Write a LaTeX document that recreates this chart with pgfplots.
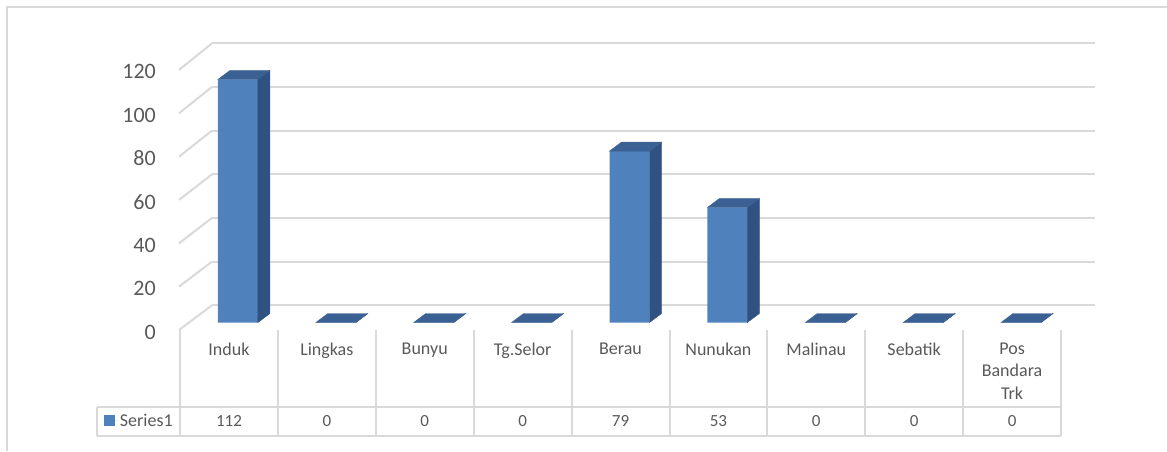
\documentclass[border=0pt]{standalone}
\usepackage{pgfplots}
\pgfplotsset{compat=1.18}
\usepackage{pgfplotstable}
\usepackage{fontspec}
\setmainfont{Carlito}
\definecolor{frontc}{HTML}{4F81BD}
\definecolor{sidec}{HTML}{2F5282}
\definecolor{topc}{HTML}{3B6194}
\definecolor{gridc}{HTML}{D9D9D9}
\definecolor{textc}{HTML}{595959}
\pgfdeclareplotmark{nothing}{}
\pgfplotstableread{
x val base
0 112 0
1 0 0
2 0 0
3 0 0
4 79 0
5 53 0
6 0 0
7 0 0
8 0 0
}\data
\begin{document}
\begin{tikzpicture}
\path[use as bounding box] (0pt,0pt) rectangle (1167pt,451pt);
\draw[gridc, line width=1.4pt] (7pt,0pt) -- (7pt,444pt) -- (1167pt,444pt);
% back wall
\begin{axis}[at={(212pt,145.7pt)}, anchor=south west, scale only axis,
  width=883pt, height=262pt, xmin=0, xmax=1, ymin=0, ymax=120,
  ytick={0,20,...,120}, xtick=\empty, yticklabels={},
  ymajorgrids, grid style={gridc, line width=2pt},
  axis line style={draw=none}, major tick length=0pt]
\end{axis}
% side wall
\foreach \v in {0,20,...,120}
  \draw[gridc, line width=2pt] (179pt,{121pt+2.167pt*\v}) -- (212pt,{145.7pt+2.1833pt*\v});
% table lines
\foreach \i in {0,...,9}
  \draw[gridc, line width=2pt] ({180pt+97.9pt*\i},121pt) -- ({180pt+97.9pt*\i},15pt);
\draw[gridc, line width=2pt] (97pt,44pt) -- (1061pt,44pt);
\draw[gridc, line width=2pt] (97pt,15pt) -- (1061pt,15pt);
\draw[gridc, line width=2pt] (97pt,44pt) -- (97pt,15pt);
% main axis
\begin{axis}[at={(180pt,128.5pt)}, anchor=south west, scale only axis,
  width=881pt, height=260.4pt, xmin=-0.5, xmax=8.5, ymin=0, ymax=120,
  clip=false, axis line style={draw=none}, major tick length=0pt,
  /pgf/number format/assume math mode=true,
  ytick={0,20,...,120},
  yticklabel style={font=\fontsize{22}{26}\selectfont, text=textc, anchor=east, inner sep=0pt, xshift=-24pt, yshift=-9.5pt},
  xtick={0,...,8},
  xticklabels={Induk, Lingkas, Bunyu, Tg.Selor, Berau, Nunukan, Malinau, Sebatik, {Pos\\Bandara\\Trk}},
  xticklabel style={font=\fontsize{18}{22.5}\selectfont, text=textc, anchor=north, align=center, inner sep=0pt, yshift=-20pt},
  legend style={at={(axis description cs:-0.0863,-0.378)}, anchor=west, draw=none, fill=none, inner sep=0pt, outer sep=0pt, font=\fontsize{18}{22}\selectfont, text=textc},
  legend image code/.code={\fill[frontc] (0pt,-5.5pt) rectangle (11pt,5.5pt); \path (0pt,0pt) -- (14pt,0pt);}
  ]
\addplot[ybar, bar width=40pt, bar shift=9pt, fill=frontc, draw=none] table[x=x,y=val]{\data};
\addlegendentry{Series1}
\addplot[scatter, only marks, mark=nothing, forget plot,
  visualization depends on={\thisrow{val} \as \hval},
  scatter/@pre marker code/.code={%
    \pgfmathsetlengthmacro\hh{\hval*2.17pt}%
    \fill[sidec] (29pt,0pt) -- (41pt,9pt) -- (41pt,{9pt-\hh}) -- (29pt,{-\hh}) -- cycle;
    \fill[topc] (-11pt,0pt) -- (29pt,0pt) -- (41pt,9pt) -- (1pt,9pt) -- cycle;
    \begingroup},
  scatter/@post marker code/.code={\endgroup}]
  table[x=x,y=val]{\data};
\addplot[draw=none, mark=none, forget plot, nodes near coords, point meta=explicit,
  nodes near coords style={anchor=center, yshift=-98.5pt, inner sep=0pt, font=\fontsize{17}{20}\selectfont, text=textc}]
  table[x=x,y=base,meta=val]{\data};
\end{axis}
\end{tikzpicture}
\end{document}
